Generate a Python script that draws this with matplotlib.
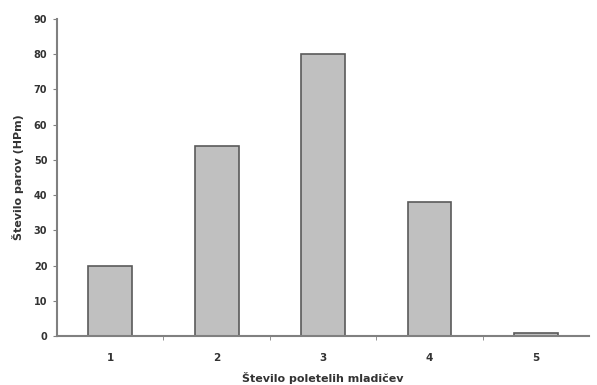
import matplotlib
matplotlib.use("Agg")
import matplotlib.pyplot as plt
from matplotlib.ticker import FixedLocator

categories = ["1", "2", "3", "4", "5"]
values = [20, 54, 80, 38, 1]
yticks = [0, 10, 20, 30, 40, 50, 60, 70, 80, 90]

plt.rcParams['font.family'] = ['DejaVu Sans']

fig = plt.figure(figsize=(5.97, 3.85), dpi=100)
ax = fig.add_axes([0.0955, 0.127, 0.8915, 0.824])

pos = list(range(1, len(categories) + 1))
ax.bar(pos, values, width=0.41, color='#c0c0c0', edgecolor='#5a5a5a', linewidth=1.2, zorder=2)

ax.set_xlim(0.5, len(categories) + 0.5)
ax.set_ylim(0, 90)
ax.set_yticks(yticks)
ax.set_yticklabels([str(t) for t in yticks], fontsize=7, fontweight='bold', color='#333333')
ax.set_xticks(pos)
ax.set_xticklabels(categories, fontsize=7.5, fontweight='bold', color='#333333')
ax.xaxis.set_minor_locator(FixedLocator([p + 0.5 for p in pos[:-1]]))
ax.tick_params(axis='x', which='major', length=0, pad=12)
ax.tick_params(axis='x', which='minor', length=3, color='#808080', direction='out')
ax.tick_params(axis='y', length=3, color='#808080', direction='out', pad=4)

for s in ['top', 'right']:
    ax.spines[s].set_visible(False)
for s in ['left', 'bottom']:
    ax.spines[s].set_color('#808080')
    ax.spines[s].set_linewidth(1.5)

ax.set_ylabel('Število parov (HPm)', fontsize=8, fontweight='bold', color='#333333', labelpad=7)
ax.set_xlabel('Število poletelih mladičev', fontsize=8, fontweight='bold', color='#333333', labelpad=7)

fig.savefig('out.png', dpi=100)
